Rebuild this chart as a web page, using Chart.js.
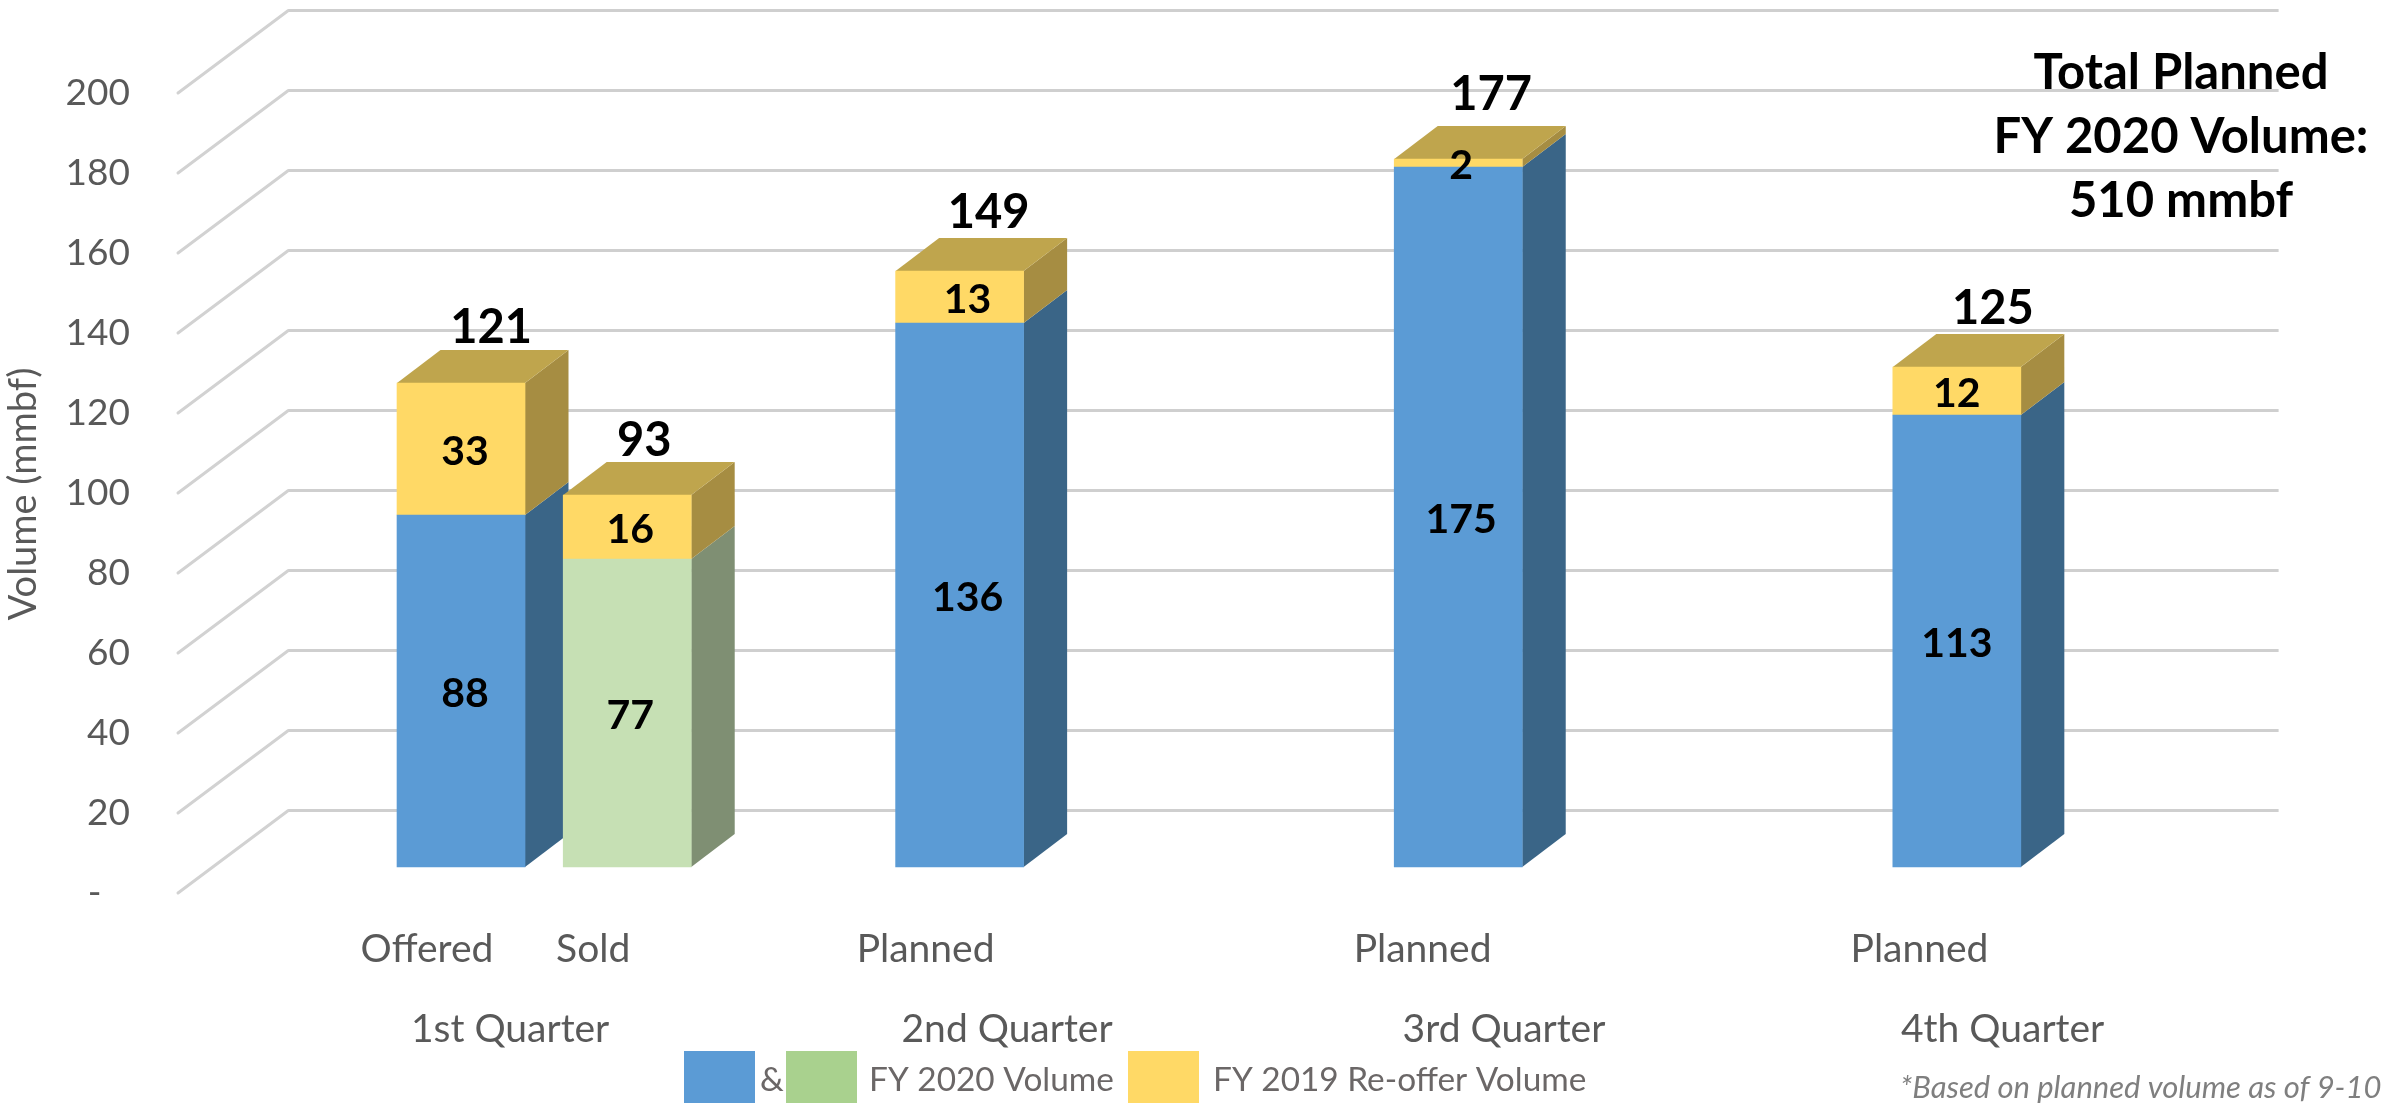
<!DOCTYPE html>
<html>
<head>
<meta charset="utf-8">
<style>html,body{margin:0;padding:0;background:#fff}canvas{display:block}</style>
<script src="https://cdn.jsdelivr.net/npm/chart.js@4"></script>
</head>
<body>
<canvas id="c" width="2382" height="1110"></canvas>
<script>
const barLabels = ['Offered', 'Sold', 'Planned', 'Planned', 'Planned'];
const barSlots = [0, 1, 3, 6, 9];
const barLabelSlots = [0, 1, 3, 5.99, 8.98];
const quarterLabels = ['1st Quarter', '2nd Quarter', '3rd Quarter', '4th Quarter'];
const quarterSlots = [0.5, 3.49, 6.48, 9.48];
const fy2020Offered = [88, null, 136, 175, 113];
const fy2020Sold = [null, 77, null, null, null];
const fy2019Reoffer = [33, 16, 13, 2, 12];
const totals = [121, 93, 149, 177, 125];
const yTicks = [0, 20, 40, 60, 80, 100, 120, 140, 160, 180, 200];
const totalNudgeX = [30, 17, 29, 33, 36];
const totalNudgeY = [-55, -54, -58, -64, -58];
const segNudgeX = [4, 3, 8, 3, 0];

const FONT = 'Lato';
const DEPTH_X = 43.5, DEPTH_Y = 33, WALL_X = 110;
const seriesStyle = [
  {front: '#5B9BD5', side: '#3A6587', top: '#4A7EAD'},
  {front: '#C6E0B4', side: '#7F8F73', top: '#A3B895'},
  {front: '#FFD966', side: '#A68D42', top: '#BFA54D'}
];
const pts = arr => arr.map((v, i) => v === null ? null : ({x: barSlots[i], y: v})).filter(Boolean);

const depthPlugin = {
  id: 'depth',
  beforeDatasetsDraw(chart) {
    const ctx = chart.ctx, left = chart.chartArea.left;
    const front = chart.scales.yFront, back = chart.scales.yBack;
    ctx.save();
    ctx.strokeStyle = '#D2D2D2'; ctx.lineWidth = 3; ctx.lineCap = 'round';
    yTicks.forEach(v => {
      ctx.beginPath();
      ctx.moveTo(left - WALL_X, front.getPixelForValue(v));
      ctx.lineTo(left, back.getPixelForValue(v));
      ctx.stroke();
    });
    const poly = (p, c) => {
      ctx.fillStyle = c; ctx.beginPath();
      p.forEach((q, i) => i ? ctx.lineTo(q[0], q[1]) : ctx.moveTo(q[0], q[1]));
      ctx.closePath(); ctx.fill();
    };
    barSlots.forEach(slot => {
      let topEl = null;
      chart.data.datasets.forEach((ds, d) => {
        chart.getDatasetMeta(d).data.forEach((el, i) => {
          if (ds.data[i].x !== slot) return;
          const r = el.x + el.width / 2, l = el.x - el.width / 2;
          poly([[r, el.y], [r + DEPTH_X, el.y - DEPTH_Y], [r + DEPTH_X, el.base - DEPTH_Y], [r, el.base]], seriesStyle[d].side);
          topEl = {l, r, y: el.y, c: seriesStyle[d].top};
        });
      });
      if (topEl) poly([[topEl.l, topEl.y], [topEl.l + DEPTH_X, topEl.y - DEPTH_Y], [topEl.r + DEPTH_X, topEl.y - DEPTH_Y], [topEl.r, topEl.y]], topEl.c);
    });
    ctx.restore();
  },
  afterDatasetsDraw(chart) {
    const ctx = chart.ctx;
    ctx.save();
    ctx.textAlign = 'center'; ctx.textBaseline = 'middle'; ctx.fillStyle = '#000';
    ctx.font = `bold 41px ${FONT}`;
    chart.data.datasets.forEach((ds, d) => {
      chart.getDatasetMeta(d).data.forEach((el, i) => {
        const idx = barSlots.indexOf(ds.data[i].x);
        ctx.fillText(String(ds.data[i].y), el.x + segNudgeX[idx], (el.y + el.base) / 2 + 3);
      });
    });
    const y = chart.scales.y, x = chart.scales.x;
    ctx.font = `bold 47px ${FONT}`;
    totals.forEach((t, i) => {
      ctx.fillText(String(t), x.getPixelForValue(barSlots[i]) + totalNudgeX[i], y.getPixelForValue(t) + totalNudgeY[i]);
    });
    ctx.restore();
  },
  afterDraw(chart) {
    const ctx = chart.ctx;
    ctx.save();
    ctx.textBaseline = 'middle';
    // annotation
    ctx.textAlign = 'center'; ctx.fillStyle = '#000'; ctx.font = `bold 49px ${FONT}`;
    ctx.fillText('Total Planned', 2181, 73);
    ctx.fillText('FY 2020 Volume:', 2181, 137);
    ctx.fillText('510 mmbf', 2181, 201);
    // axis title
    ctx.save();
    ctx.translate(24, 494); ctx.rotate(-Math.PI / 2);
    ctx.fillStyle = '#595959'; ctx.font = `38px ${FONT}`;
    ctx.fillText('Volume (mmbf)', 0, 0);
    ctx.restore();
    // legend
    ctx.textAlign = 'left';
    [[684, '#5B9BD5'], [786, '#A9D18E'], [1128, '#FFD966']].forEach(s => {
      ctx.fillStyle = s[1]; ctx.fillRect(s[0], 1051, 71, 52);
    });
    ctx.fillStyle = '#6B6767'; ctx.font = `33.4px ${FONT}`;
    ctx.fillText('&', 760, 1080);
    ctx.fillText('FY 2020 Volume', 869, 1080);
    ctx.fillText('FY 2019 Re-offer Volume', 1213, 1080);
    // note
    ctx.fillStyle = '#7F7F7F'; ctx.font = `italic 31px ${FONT}`;
    ctx.fillText('*Based on planned volume as of 9-10', 1900, 1088);
    ctx.restore();
  }
};

new Chart(document.getElementById('c'), {
  type: 'bar',
  plugins: [depthPlugin],
  data: {
    datasets: [
      {label: 'FY 2020 Volume (offered / planned)', data: pts(fy2020Offered), backgroundColor: seriesStyle[0].front},
      {label: 'FY 2020 Volume (sold)', data: pts(fy2020Sold), backgroundColor: seriesStyle[1].front},
      {label: 'FY 2019 Re-offer Volume', data: pts(fy2019Reoffer), backgroundColor: seriesStyle[2].front}
    ]
  },
  options: {
    responsive: false,
    animation: false,
    layout: {padding: {top: 6, right: 103.4, left: 0, bottom: 0}},
    plugins: {legend: {display: false}, tooltip: {enabled: false}, title: {display: false}},
    datasets: {bar: {barThickness: 128}},
    scales: {
      x: {
        type: 'linear', position: 'bottom', stacked: true, weight: 0, offset: false,
        min: -1.041, max: 10.936,
        grid: {display: false}, border: {display: false},
        afterBuildTicks: s => { s.ticks = barLabelSlots.map(v => ({value: v})); },
        afterFit: s => { s.height = 100; s.paddingLeft = 0; s.paddingRight = 0; },
        ticks: {
          autoSkip: false, maxRotation: 0, padding: 25, labelOffset: -34,
          color: '#595959', font: {family: FONT, size: 39},
          callback: v => barLabels[barLabelSlots.indexOf(v)]
        }
      },
      x2: {
        type: 'linear', position: 'bottom', weight: 1, offset: false,
        min: -1.041, max: 10.936,
        grid: {display: false}, border: {display: false},
        afterBuildTicks: s => { s.ticks = quarterSlots.map(v => ({value: v})); },
        afterFit: s => { s.height = 117; s.paddingLeft = 0; s.paddingRight = 0; },
        ticks: {
          autoSkip: false, maxRotation: 0, padding: 5, labelOffset: -34,
          color: '#595959', font: {family: FONT, size: 39},
          callback: v => quarterLabels[quarterSlots.indexOf(v)]
        }
      },
      y: {
        display: false, stacked: true, min: -6.5, max: 215.25
      },
      yFront: {
        position: 'left', min: 0, max: 221.75, weight: 1,
        grid: {display: true, drawOnChartArea: false, drawTicks: true, tickLength: 158, tickColor: 'rgba(0,0,0,0)', color: 'rgba(0,0,0,0)'},
        border: {display: false},
        afterBuildTicks: s => { s.ticks = yTicks.map(v => ({value: v})); },
        afterFit: s => { s.width = 288; s.paddingTop = 0; s.paddingBottom = 0; },
        ticks: {
          padding: 0, color: '#595959', font: {family: FONT, size: 37},
          callback: v => v === 0 ? '-\u00A0\u00A0\u00A0' : String(v)
        }
      },
      yBack: {
        position: 'left', min: -20.575, max: 201.175, weight: 0,
        border: {display: false},
        grid: {color: '#CFCFCF', lineWidth: 3, drawTicks: false},
        afterBuildTicks: s => { s.ticks = yTicks.map(v => ({value: v})); },
        afterFit: s => { s.width = 0; s.paddingTop = 0; s.paddingBottom = 0; },
        ticks: {display: false}
      }
    }
  }
});
</script>
</body>
</html>
